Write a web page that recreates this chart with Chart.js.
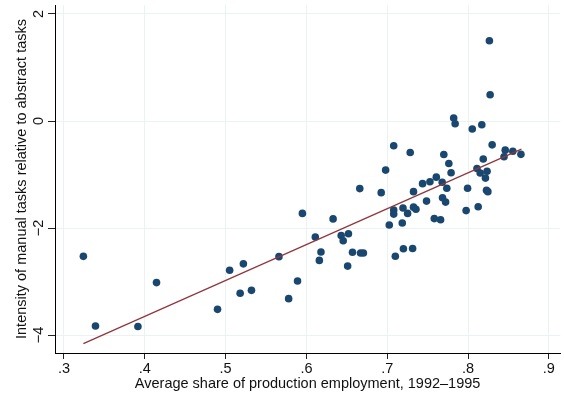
<!DOCTYPE html>
<html>
<head>
<meta charset="utf-8">
<script src="https://cdn.jsdelivr.net/npm/chart.js@4/dist/chart.umd.min.js"></script>
<style>
  html, body { margin: 0; padding: 0; background: #fff; }
  #wrap { width: 564px; height: 396px; }
</style>
</head>
<body>
<div id="wrap"><canvas id="c" width="564" height="396"></canvas></div>
<script>
// Average share of production employment, 1992-1995 (x) vs. intensity of manual tasks (y)
const shareProd = [
  0.324, 0.339, 0.3915, 0.4145, 0.490, 0.505, 0.522, 0.518, 0.532, 0.566,
  0.578, 0.589, 0.595, 0.611, 0.616, 0.618, 0.633, 0.643, 0.6455, 0.652,
  0.651, 0.657, 0.666, 0.667, 0.6705, 0.6925, 0.698, 0.7025, 0.708, 0.708,
  0.708, 0.710, 0.7186, 0.7195, 0.720, 0.7252, 0.7284, 0.7314, 0.7325, 0.7325,
  0.7355, 0.7437, 0.7486, 0.7528, 0.7582, 0.7607, 0.766, 0.768, 0.7684, 0.770,
  0.7722, 0.7737, 0.7762, 0.779, 0.7822, 0.784, 0.7976, 0.7994, 0.8052, 0.811,
  0.8125, 0.815, 0.817, 0.8188, 0.8215, 0.8235, 0.8228, 0.8245, 0.8264, 0.8273,
  0.8298, 0.8445, 0.846, 0.8554, 0.8654
];
const manualIntensity = [
  -2.53, -3.83, -3.84, -3.02, -3.52, -2.79, -2.67, -3.22, -3.165, -2.535,
  -3.32, -2.99, -1.727, -2.17, -2.605, -2.447, -1.83, -2.142, -2.238, -2.107,
  -2.712, -2.453, -1.263, -2.468, -2.468, -1.339, -0.918, -1.945, -0.463, -1.663,
  -1.74, -2.528, -1.906, -1.625, -2.388, -1.727, -0.59, -2.383, -1.32, -1.61,
  -1.65, -1.171, -1.497, -1.134, -1.824, -1.049, -1.846, -1.146, -1.435, -0.626,
  -1.516, -1.258, -0.794, -0.968, 0.056, -0.05, -1.675, -1.258, -0.15, -0.888,
  -1.603, -0.972, -0.069, -0.71, -1.067, -0.94, -1.293, -1.32, 1.499, 0.491,
  -0.446, -0.667, -0.545, -0.564, -0.623
];
// Linear fit, drawn between its two end points
const fitX = [0.324, 0.866];
const fitY = [-4.16, -0.525];

const xTicks = [0.3, 0.4, 0.5, 0.6, 0.7, 0.8, 0.9];
const xTickLabels = ['.3', '.4', '.5', '.6', '.7', '.8', '.9'];
const yTicks = [-4, -2, 0, 2];
const yTickLabels = ['\u22124', '\u22122', '0', '2'];

const FONT = "'Liberation Sans', Arial, sans-serif";
const INK = '#111';
const GRID = '#eaf2f3';

const points = shareProd.map((x, i) => ({ x: x, y: manualIntensity[i] }));
const fitLine = fitX.map((x, i) => ({ x: x, y: fitY[i] }));

new Chart(document.getElementById('c'), {
  type: 'scatter',
  data: {
    datasets: [
      {
        type: 'line',
        data: fitLine,
        borderColor: '#90353b',
        borderWidth: 1.2,
        pointRadius: 0,
        fill: false,
        tension: 0
      },
      {
        data: points,
        backgroundColor: '#1a476f',
        borderWidth: 0,
        pointRadius: 3.8,
        pointHoverRadius: 3.8
      }
    ]
  },
  options: {
    responsive: false,
    animation: false,
    devicePixelRatio: 1,
    layout: { padding: { top: 5, right: 0, left: 0, bottom: 0 } },
    plugins: { legend: { display: false }, tooltip: { enabled: false } },
    scales: {
      x: {
        type: 'linear',
        min: 0.2889,
        max: 0.914,
        afterBuildTicks: (s) => { s.ticks = xTicks.map(v => ({ value: v })); },
        afterFit: (s) => { s.height = 43; s.paddingLeft = 0; s.paddingRight = 0; },
        ticks: {
          autoSkip: false,
          maxRotation: 0,
          padding: 1,
          color: INK,
          font: { family: FONT, size: 14.5 },
          callback: (v) => { const i = xTicks.findIndex(t => Math.abs(t - v) < 1e-9); return i >= 0 ? xTickLabels[i] : ''; }
        },
        grid: { color: GRID, lineWidth: 1, tickLength: 6, tickColor: '#222', tickWidth: 1 },
        border: { display: true, color: '#000', width: 1 },
        title: {
          display: true,
          text: 'Average share of production employment, 1992\u20131995',
          color: INK,
          font: { family: FONT, size: 14.5 },
          padding: { top: 0, bottom: 3 }
        }
      },
      y: {
        type: 'linear',
        min: -4.336,
        max: 2.168,
        afterBuildTicks: (s) => { s.ticks = yTicks.map(v => ({ value: v })); },
        afterFit: (s) => { s.width = 55; s.paddingTop = 0; s.paddingBottom = 0; },
        ticks: {
          autoSkip: false,
          minRotation: 90,
          maxRotation: 90,
          crossAlign: 'center',
          padding: 1,
          color: INK,
          font: { family: FONT, size: 14.5 },
          callback: (v) => { const i = yTicks.findIndex(t => Math.abs(t - v) < 1e-9); return i >= 0 ? yTickLabels[i] : ''; }
        },
        grid: { color: GRID, lineWidth: 1, tickLength: 7, tickColor: '#222', tickWidth: 1 },
        border: { display: true, color: '#000', width: 1 },
        title: {
          display: true,
          text: 'Intensity of manual tasks relative to abstract tasks',
          color: INK,
          font: { family: FONT, size: 14.5 },
          padding: { top: 13, bottom: 0 }
        }
      }
    }
  }
});
</script>
</body>
</html>
